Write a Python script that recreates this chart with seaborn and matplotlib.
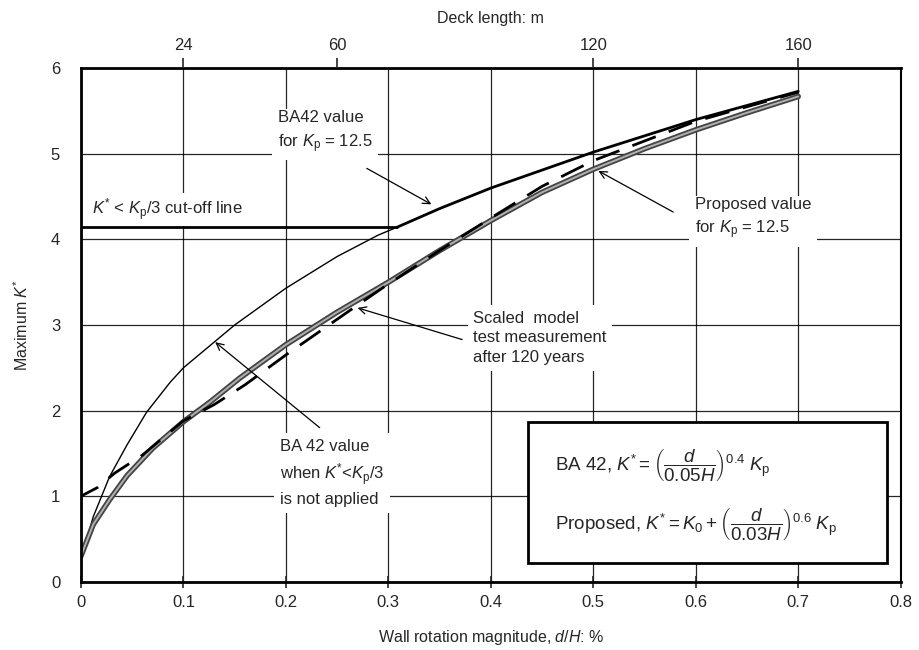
import matplotlib
matplotlib.use("Agg")
import matplotlib.pyplot as plt
from matplotlib.patches import Rectangle
import pandas as pd
import seaborn as sns

# values
ba42_full_x = [0, 0.012, 0.028, 0.045, 0.064, 0.087, 0.1, 0.13, 0.15, 0.2, 0.25, 0.29, 0.308]
ba42_full_y = [0.25, 0.76, 1.23, 1.6, 1.98, 2.33, 2.5, 2.8, 3.0, 3.43, 3.8, 4.05, 4.14]

cutoff_x = [0, 0.308]
cutoff_y = [4.14, 4.14]

ba42_x = [0.308, 0.35, 0.4, 0.5, 0.6, 0.7]
ba42_y = [4.14, 4.36, 4.6, 5.02, 5.4, 5.73]

proposed_x = [0, 0.012, 0.028, 0.045, 0.07, 0.1, 0.126, 0.155, 0.2, 0.25, 0.3, 0.35,
              0.4, 0.45, 0.5, 0.55, 0.6, 0.65, 0.7]
proposed_y = [0.3, 0.67, 0.96, 1.24, 1.56, 1.87, 2.1, 2.38, 2.77, 3.15, 3.5, 3.87,
              4.22, 4.55, 4.82, 5.06, 5.28, 5.48, 5.67]

model_x = [0, 0.016, 0.033, 0.06, 0.1, 0.13, 0.16, 0.2, 0.26, 0.3, 0.35, 0.4, 0.45,
           0.5, 0.55, 0.6, 0.65, 0.7]
model_y = [1.0, 1.1, 1.27, 1.48, 1.88, 2.07, 2.3, 2.65, 3.15, 3.48, 3.87, 4.25, 4.62,
           4.92, 5.15, 5.38, 5.55, 5.72]

x_ticks = [0, 0.1, 0.2, 0.3, 0.4, 0.5, 0.6, 0.7, 0.8]
x_ticklabels = ["0", "0.1", "0.2", "0.3", "0.4", "0.5", "0.6", "0.7", "0.8"]
y_ticks = [0, 1, 2, 3, 4, 5, 6]
deck_pos = [0.1, 0.25, 0.5, 0.7]
deck_labels = ["24", "60", "120", "160"]

sns.set_style("white")
plt.rcParams["font.family"] = ["Liberation Sans", "DejaVu Sans"]
plt.rcParams["mathtext.fontset"] = "custom"
plt.rcParams["mathtext.rm"] = "Liberation Sans"
plt.rcParams["mathtext.it"] = "Liberation Sans:italic"
plt.rcParams["mathtext.bf"] = "Liberation Sans:bold"

fig = plt.figure(figsize=(9.2, 6.5), dpi=100)
ax = fig.add_axes([0.088, 0.105, 0.891, 0.79])

def df(x, y):
    return pd.DataFrame({"x": x, "y": y})

sns.lineplot(data=df(ba42_full_x, ba42_full_y), x="x", y="y", ax=ax, sort=False,
             estimator=None, color="black", lw=1.0)
sns.lineplot(data=df(cutoff_x, cutoff_y), x="x", y="y", ax=ax, sort=False,
             estimator=None, color="black", lw=2.0)
sns.lineplot(data=df(ba42_x, ba42_y), x="x", y="y", ax=ax, sort=False,
             estimator=None, color="black", lw=2.0)
sns.lineplot(data=df(proposed_x, proposed_y), x="x", y="y", ax=ax, sort=False,
             estimator=None, color="#444444", lw=4.0)
sns.lineplot(data=df(proposed_x, proposed_y), x="x", y="y", ax=ax, sort=False,
             estimator=None, color="#b0b0b0", lw=1.4)
sns.lineplot(data=df(model_x, model_y), x="x", y="y", ax=ax, sort=False,
             estimator=None, color="black", lw=2.0, dashes=False,
             linestyle=(2, (9, 5)))

ax.set_xlim(0, 0.8)
ax.set_ylim(0, 6)
ax.set_xticks(x_ticks)
ax.set_xticklabels(x_ticklabels)
ax.set_yticks(y_ticks)
ax.tick_params(axis="x", direction="inout", length=9, width=1.2, labelsize=12, pad=5)
ax.tick_params(axis="y", direction="out", length=7, width=1.2, labelsize=12, pad=8)
ax.set_axisbelow(True)
ax.grid(True, color="black", lw=0.9, alpha=0.85)
for s in ["left", "bottom", "top"]:
    ax.spines[s].set_linewidth(2.0)
ax.spines["right"].set_linewidth(1.5)
for s in ax.spines.values():
    s.set_color("black")

ax.set_xlabel("Wall rotation magnitude, $d/H$: %", fontsize=11.5, labelpad=13)
ax.set_ylabel("Maximum $K^{*}$", fontsize=11.5, labelpad=14)

ax2 = ax.twiny()
ax2.set_xlim(0, 0.8)
ax2.set_xticks(deck_pos)
ax2.set_xticklabels(deck_labels)
ax2.tick_params(axis="x", direction="out", length=7, width=1.2, labelsize=12, pad=4)
ax2.set_xlabel("Deck length: m", fontsize=11.5, labelpad=11)
for s in ax2.spines.values():
    s.set_visible(False)

box = dict(facecolor="white", edgecolor="none", pad=4)
arrow = dict(arrowstyle="->", lw=0.9, color="black", shrinkA=0, shrinkB=0,
             mutation_scale=13)
fs = 12

ax.text(0.192, 5.25, "BA42 value\nfor $K_\\mathrm{p}$ = 12.5", fontsize=fs,
        ha="left", va="center", linespacing=1.45, bbox=box)
ax.annotate("", xy=(0.342, 4.41), xytext=(0.279, 4.83), arrowprops=arrow)

ax.text(0.011, 4.35, "$K^{*}$ < $K_\\mathrm{p}$/3 cut-off line", fontsize=fs,
        ha="left", va="center", bbox=dict(facecolor="white", edgecolor="none", pad=2))

ax.text(0.599, 4.24, "Proposed value\nfor $K_\\mathrm{p}$ = 12.5", fontsize=fs,
        ha="left", va="center", linespacing=1.45, bbox=box)
ax.annotate("", xy=(0.505, 4.8), xytext=(0.578, 4.32), arrowprops=arrow)

ax.text(0.383, 2.85, "Scaled  model\ntest measurement\nafter 120 years", fontsize=fs,
        ha="left", va="center", linespacing=1.4, bbox=box)
ax.annotate("", xy=(0.27, 3.2), xytext=(0.372, 2.83), arrowprops=arrow)

ax.text(0.194, 1.27, "BA 42 value\nwhen $K^{*}$<$K_\\mathrm{p}$/3\nis not applied",
        fontsize=fs, ha="left", va="center", linespacing=1.4, bbox=box)
ax.annotate("", xy=(0.131, 2.8), xytext=(0.233, 1.8), arrowprops=arrow)

ax.add_patch(Rectangle((0.436, 0.22), 0.351, 1.65, facecolor="white",
                       edgecolor="black", lw=2.0, zorder=4))
ax.text(0.463, 1.36,
        r"BA 42, $K^{*}=\left(\dfrac{d}{0.05H}\right)^{0.4}\;K_\mathrm{p}$",
        fontsize=13.5, ha="left", va="center", zorder=5)
ax.text(0.463, 0.68,
        r"Proposed, $K^{*}=K_0+\left(\dfrac{d}{0.03H}\right)^{0.6}\;K_\mathrm{p}$",
        fontsize=13.5, ha="left", va="center", zorder=5)

fig.savefig("out.png", dpi=100)
